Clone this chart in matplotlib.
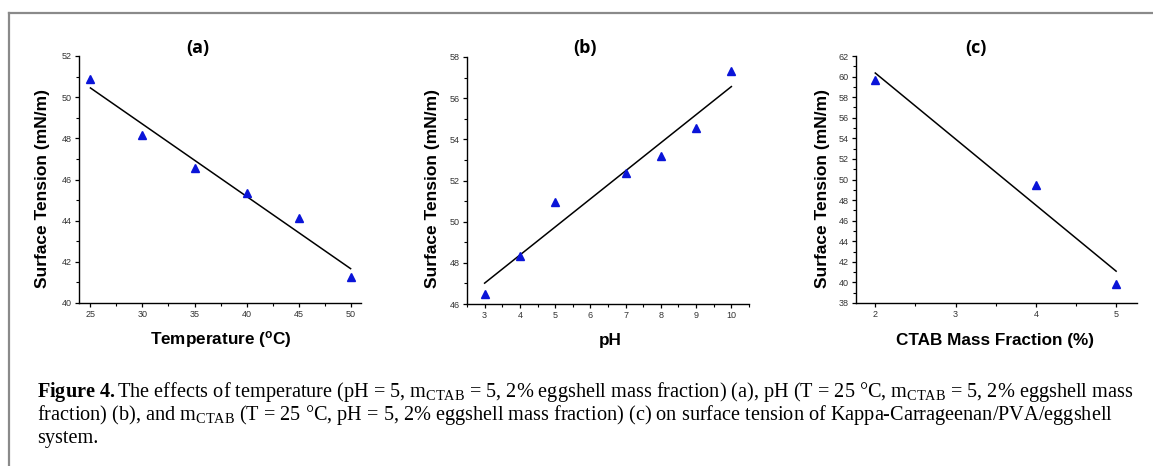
import numpy as np
import matplotlib
matplotlib.use("Agg")
import matplotlib.pyplot as plt
from matplotlib.ticker import MultipleLocator
from matplotlib.lines import Line2D

plt.rcParams['font.family'] = ['Liberation Sans', 'DejaVu Sans']
plt.rcParams['mathtext.fontset'] = 'custom'
plt.rcParams['mathtext.rm'] = 'Liberation Serif'
plt.rcParams['mathtext.bf'] = 'Liberation Serif:bold'
plt.rcParams['mathtext.it'] = 'Liberation Serif:italic'

# Data
temp_x = [25, 30, 35, 40, 45, 50]
temp_y = [50.9, 48.15, 46.55, 45.35, 44.15, 41.25]
ph_x = [3, 4, 5, 7, 8, 9, 10]
ph_y = [46.5, 48.35, 50.95, 52.35, 53.2, 54.55, 57.3]
ctab_x = [2, 4, 5]
ctab_y = [59.7, 49.45, 39.8]

titles = ["(a)", "(b)", "(c)"]
xlabels = ["Temperature ($\\mathregular{^o}$C)", "pH", "CTAB Mass Fraction (%)"]
ylabel = "Surface Tension (mN/m)"

W, H = 1153, 466
fig = plt.figure(figsize=(W / 100, H / 100), dpi=100)

def fx(px):
    return px / W

def fy(py):
    return 1 - py / H

panels = [
    dict(x=temp_x, y=temp_y, l=79, r=361, t=56, b=303, xlim=(23.9, 51), ylim=(40, 52),
         xmaj=5, xmin=2.5, ymaj=2, ymin=1, tx=198, ylx=43, xlx=221),
    dict(x=ph_x, y=ph_y, l=467, r=749, t=57, b=304, xlim=(2.5, 10.5), ylim=(46, 58),
         xmaj=1, xmin=0.5, ymaj=2, ymin=1, tx=585, ylx=433, xlx=610),
    dict(x=ctab_x, y=ctab_y, l=856, r=1137, t=56, b=303, xlim=(1.76, 5.26), ylim=(38, 62),
         xmaj=1, xmin=0.5, ymaj=2, ymin=1, tx=976, ylx=822, xlx=995),
]

for i, p in enumerate(panels):
    ax = fig.add_axes([fx(p['l']), fy(p['b']), fx(p['r'] - p['l']), (p['b'] - p['t']) / H])
    xs = np.array(p['x'], dtype=float)
    ys = np.array(p['y'], dtype=float)
    coef = np.polyfit(xs, ys, 1)
    xf = np.array([xs.min(), xs.max()])
    ax.plot(xf, np.polyval(coef, xf), color='black', lw=1.1, zorder=2)
    ax.plot(xs, ys, linestyle='none', marker='^', color='#0a14d8', markersize=5.5, zorder=3)
    ax.set_xlim(*p['xlim'])
    ax.set_ylim(*p['ylim'])
    ax.xaxis.set_major_locator(MultipleLocator(p['xmaj']))
    ax.xaxis.set_minor_locator(MultipleLocator(p['xmin']))
    ax.yaxis.set_major_locator(MultipleLocator(p['ymaj']))
    ax.yaxis.set_minor_locator(MultipleLocator(p['ymin']))
    for s in ['top', 'right']:
        ax.spines[s].set_visible(False)
    for s in ['left', 'bottom']:
        ax.spines[s].set_linewidth(1.0)
    ax.tick_params(which='major', direction='out', length=3, width=0.9, labelsize=6.5,
                   labelcolor='#333333', pad=2)
    ax.tick_params(which='minor', direction='out', length=2, width=0.8)
    fig.text(fx(p['tx']), fy(48), titles[i], ha='center', va='center',
             fontsize=13, fontweight='bold', family=['Open Sans', 'DejaVu Sans'])
    fig.text(fx(p['ylx']), fy(189), ylabel, rotation=90, ha='center', va='center',
             fontsize=12.5, fontweight='bold')
    fig.text(fx(p['xlx']), fy(340), xlabels[i], ha='center', va='center',
             fontsize=12.3, fontweight='bold')

# Frame lines
fig.add_artist(Line2D([fx(9), 1.0], [fy(13), fy(13)], color='#8a8a8a', lw=1.6))
fig.add_artist(Line2D([fx(9), fx(9)], [fy(13), 0.0], color='#8a8a8a', lw=1.6))

# Caption
cap_kw = dict(ha='left', va='baseline', fontsize=14.6, family=['Liberation Serif'])
line1 = (r"$\mathbf{Figure\ 4.}$The effects of temperature (pH = 5, m$_{\mathrm{CTAB}}$ = 5, "
         r"2% eggshell mass fraction) (a), pH (T = 25 °C, m$_{\mathrm{CTAB}}$ = 5, 2% eggshell mass")
line2 = (r"fraction) (b), and m$_{\mathrm{CTAB}}$ (T = 25 °C, pH = 5, 2% eggshell mass fraction) (c) "
         r"on surface tension of Kappa-Carrageenan/PVA/eggshell")
line3 = "system."
fig.text(fx(37), fy(397), line1, **cap_kw)
fig.text(fx(37), fy(420), line2, **cap_kw)
fig.text(fx(37), fy(443), line3, **cap_kw)

fig.savefig("out.png", dpi=100)
